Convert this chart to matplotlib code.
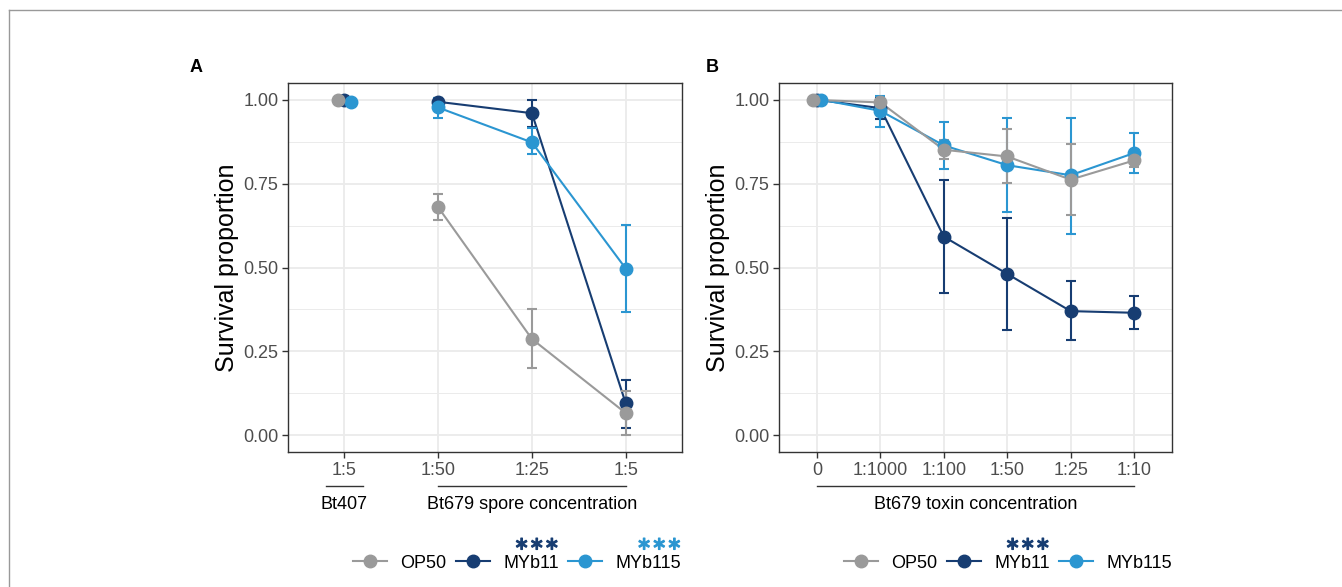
import matplotlib
matplotlib.use("Agg")
import matplotlib.pyplot as plt
import matplotlib.patheffects as pe
import numpy as np
from matplotlib.lines import Line2D

plt.rcParams['font.family'] = ['Liberation Sans', 'DejaVu Sans']

# ---------------- data ----------------
strains = ["OP50", "MYb11", "MYb115"]
colors = {"OP50": "#9a9a9a", "MYb11": "#173d72", "MYb115": "#2b96d1"}

# Panel A
a_ticks = ["1:5", "1:50", "1:25", "1:5"]
a_mean = {
    "OP50":   [1.000, 0.680, 0.287, 0.066],
    "MYb11":  [1.000, 0.994, 0.960, 0.095],
    "MYb115": [0.993, 0.977, 0.873, 0.497],
}
a_lo = {
    "OP50":   [1.000, 0.642, 0.199, 0.000],
    "MYb11":  [1.000, 0.980, 0.920, 0.021],
    "MYb115": [0.993, 0.947, 0.837, 0.367],
}
a_hi = {
    "OP50":   [1.000, 0.718, 0.375, 0.133],
    "MYb11":  [1.000, 1.005, 1.000, 0.165],
    "MYb115": [0.993, 1.005, 0.915, 0.628],
}
a_groups = [("Bt407", 0, 0), ("Bt679 spore concentration", 1, 3)]
a_stars = {"MYb11": True, "MYb115": True}

# Panel B
b_ticks = ["0", "1:1000", "1:100", "1:50", "1:25", "1:10"]
b_mean = {
    "OP50":   [1.000, 0.992, 0.851, 0.831, 0.762, 0.819],
    "MYb11":  [1.000, 0.975, 0.592, 0.481, 0.370, 0.365],
    "MYb115": [1.000, 0.967, 0.864, 0.805, 0.775, 0.841],
}
b_lo = {
    "OP50":   [1.000, 0.985, 0.822, 0.752, 0.656, 0.800],
    "MYb11":  [1.000, 0.943, 0.424, 0.314, 0.283, 0.318],
    "MYb115": [1.000, 0.920, 0.795, 0.666, 0.600, 0.782],
}
b_hi = {
    "OP50":   [1.000, 0.999, 0.880, 0.913, 0.867, 0.838],
    "MYb11":  [1.000, 1.005, 0.760, 0.647, 0.461, 0.414],
    "MYb115": [1.000, 1.010, 0.935, 0.946, 0.946, 0.901],
}
b_groups = [("Bt679 toxin concentration", 0, 5)]
b_stars = {"MYb11": True, "MYb115": False}

ylabel = "Survival proportion"
yticks = [0.00, 0.25, 0.50, 0.75, 1.00]

# ---------------- figure ----------------
W, H = 1342, 587
fig = plt.figure(figsize=(W / 100, H / 100), dpi=100)
fig.patch.set_facecolor("white")

# outer frame lines (top and left)
fig.add_artist(Line2D([9 / W, 1], [1 - 10 / H, 1 - 10 / H], color="#999999", lw=1.0))
fig.add_artist(Line2D([9 / W, 9 / W], [0, 1 - 10 / H], color="#999999", lw=1.0))

draw_order = ["MYb11", "MYb115", "OP50"]
dodge = {"OP50": -0.07, "MYb11": 0.0, "MYb115": 0.07}


def panel(rect, ticks, mean, lo, hi, groups, first_separate):
    ax = fig.add_axes(rect)
    n = len(ticks)
    x = np.arange(n, dtype=float)
    for s in draw_order:
        m = np.array(mean[s])
        l = np.array(lo[s])
        h = np.array(hi[s])
        xs = x.copy()
        xs[0] = xs[0] + dodge[s]
        c = colors[s]
        ax.errorbar(xs, m, yerr=[m - l, h - m], fmt="none", ecolor=c,
                    elinewidth=1.5, capsize=3.6, capthick=1.5, zorder=3)
        if first_separate:
            ax.plot(xs[1:], m[1:], color=c, lw=1.5, zorder=3)
        else:
            ax.plot(xs, m, color=c, lw=1.5, zorder=3)
        ax.plot(xs, m, "o", color=c, ms=9, mec=c, zorder=4)
    ax.set_xlim(-0.6, n - 1 + 0.6)
    ax.set_ylim(-0.05, 1.05)
    ax.set_xticks(x)
    ax.set_xticklabels(ticks)
    ax.set_yticks(yticks)
    ax.set_yticklabels([f"{v:.2f}" for v in yticks])
    ax.set_yticks([0.125, 0.375, 0.625, 0.875], minor=True)
    ax.grid(True, which="major", color="#ebebeb", lw=1.3, zorder=0)
    ax.grid(True, which="minor", axis="y", color="#ebebeb", lw=0.7, zorder=0)
    ax.set_axisbelow(True)
    for sp in ax.spines.values():
        sp.set_color("#333333")
        sp.set_linewidth(1.0)
    ax.tick_params(which="major", length=4, width=1.0, color="#333333",
                   labelsize=13, labelcolor="#4d4d4d", pad=3)
    ax.tick_params(which="minor", length=0)
    ax.set_ylabel(ylabel, fontsize=18, color="black", labelpad=3)
    # group annotations below x axis
    trans = ax.get_xaxis_transform()
    for label, i0, i1 in groups:
        if i0 == i1:
            xa, xb = i0 - 0.2, i1 + 0.2
        else:
            xa, xb = i0, i1
        ax.add_line(Line2D([xa, xb], [-0.092, -0.092], transform=trans,
                           color="#333333", lw=1.0, clip_on=False))
        ax.text((i0 + i1) / 2, -0.141, label, transform=trans, ha="center",
                va="center", fontsize=13, color="black")
    return ax


axA = panel([288 / W, 1 - 452 / H, 394 / W, 369 / H], a_ticks, a_mean, a_lo, a_hi,
            a_groups, True)
axB = panel([779 / W, 1 - 452 / H, 393 / W, 369 / H], b_ticks, b_mean, b_lo, b_hi,
            b_groups, False)

fig.text(190 / W, 1 - 67 / H, "A", fontsize=13, fontweight="bold", ha="left", va="center")
fig.text(706 / W, 1 - 67 / H, "B", fontsize=13, fontweight="bold", ha="left", va="center")

# legends
handles = [Line2D([], [], color=colors[s], lw=1.5, marker="o", ms=9) for s in strains]


def add_legend(cx):
    return fig.legend(handles, strains, loc="center", bbox_to_anchor=(cx / W, 1 - 563 / H),
                      ncol=3, frameon=False, fontsize=13, handlelength=1.9,
                      handletextpad=0.75, columnspacing=0.5, borderaxespad=0)


legA = add_legend(517)
legB = add_legend(1008)

fig.canvas.draw()
r = fig.canvas.get_renderer()
for leg, stars in ((legA, a_stars), (legB, b_stars)):
    for txt, s in zip(leg.get_texts(), strains):
        if stars.get(s):
            bb = txt.get_window_extent(r)
            fig.text(bb.x1 / W, 1 - 545 / H, r"${\ast}{\ast}{\ast}$", fontsize=13,
                     color=colors[s], ha="right", va="center",
                     path_effects=[pe.withStroke(linewidth=0.9, foreground=colors[s])])

fig.savefig("out.png", dpi=100, facecolor="white")
